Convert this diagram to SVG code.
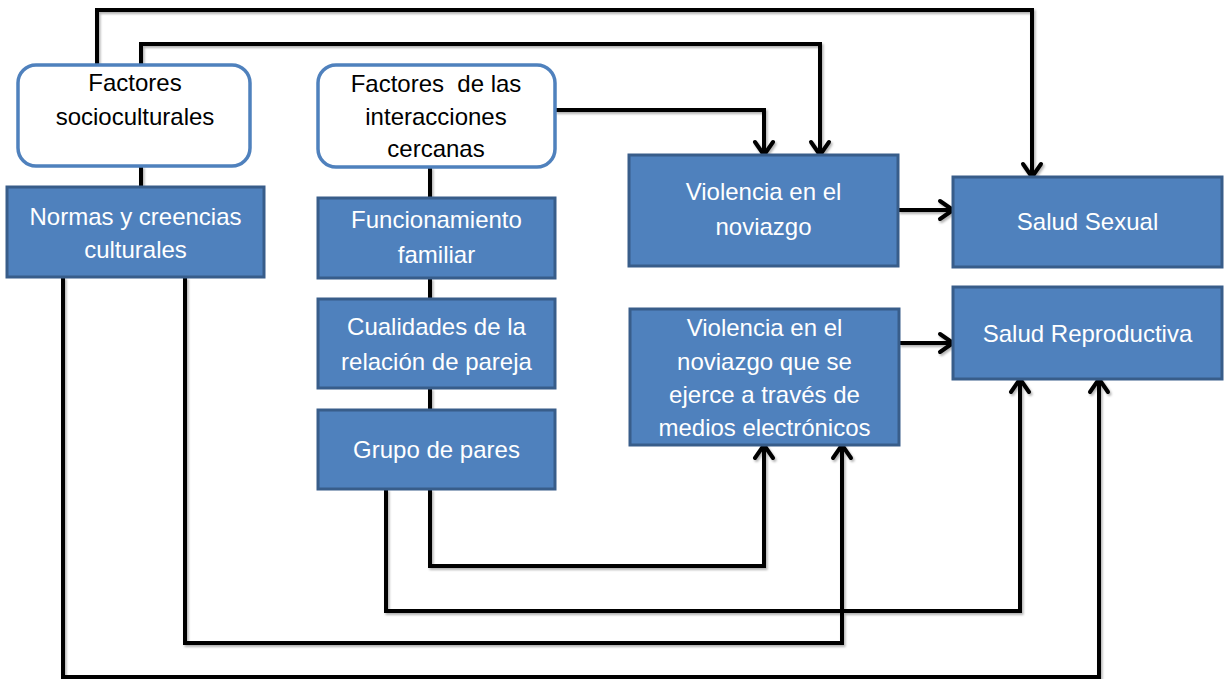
<svg xmlns="http://www.w3.org/2000/svg" width="1225" height="679" viewBox="0 0 1225 679">
  <style>
    .outer { fill: #ffffff; stroke: #4f81bd; stroke-width: 3.5; }
    .box { fill: #4f81bd; stroke: #385d8a; stroke-width: 3; }
    .tb { font-family: "Liberation Sans", Arial, sans-serif; font-size: 24px; fill: #000000; text-anchor: middle; }
    .tw { font-family: "Liberation Sans", Arial, sans-serif; font-size: 24px; fill: #ffffff; text-anchor: middle; }
    .con { fill: none; stroke: #000000; stroke-width: 4; stroke-linejoin: miter; }
    .arr { fill: none; stroke: #000000; stroke-width: 4; marker-end: url(#arrow); }
  </style>
  <defs>
    <marker id="arrow" markerUnits="userSpaceOnUse" viewBox="-16 -12 20 24" refX="0" refY="0" markerWidth="20" markerHeight="24" orient="auto" overflow="visible">
      <path d="M-13,-9 L0,0 L-13,9" fill="none" stroke="#000000" stroke-width="4" stroke-linejoin="round" stroke-linecap="round"/>
    </marker>
    <filter id="sh" x="-5%" y="-5%" width="110%" height="110%">
      <feDropShadow dx="1.5" dy="2" stdDeviation="1.2" flood-color="#000000" flood-opacity="0.3"/>
    </filter>
  </defs>

  <g id="connectors" filter="url(#sh)">
    <path class="arr" d="M97,65 V10 H1032 V177"/>
    <path class="arr" d="M141,65 V44 H820 V155"/>
    <path class="arr" d="M555,110 H764 V155"/>
    <path class="con" d="M141,166 V187"/>
    <path class="con" d="M430,167 V198"/>
    <path class="con" d="M430,278 V299"/>
    <path class="con" d="M430,388 V410"/>
    <path class="arr" d="M898,210 H953"/>
    <path class="arr" d="M899,343 H953"/>
    <path class="arr" d="M430,489 V566 H764 V445"/>
    <path class="arr" d="M386,489 V611 H1020 V379"/>
    <path class="arr" d="M185,277 V643 H842 V445"/>
    <path class="arr" d="M63,277 V677 H1099 V379"/>
  </g>

  <g id="factores-socioculturales">
    <rect class="outer" x="18" y="65" width="232" height="101" rx="18" ry="18"/>
    <text class="tb" x="135" y="91">Factores</text>
    <text class="tb" x="135" y="125">socioculturales</text>
  </g>

  <g id="normas">
    <rect class="box" x="7" y="187" width="257" height="90"/>
    <text class="tw" x="135.5" y="225">Normas y creencias</text>
    <text class="tw" x="135.5" y="258">culturales</text>
  </g>

  <g id="factores-interacciones">
    <rect class="outer" x="318" y="65" width="237" height="102" rx="18" ry="18"/>
    <text class="tb" x="436" y="92" xml:space="preserve">Factores  de las</text>
    <text class="tb" x="436" y="125">interacciones</text>
    <text class="tb" x="436" y="157">cercanas</text>
  </g>

  <g id="funcionamiento">
    <rect class="box" x="318" y="198" width="237" height="80"/>
    <text class="tw" x="436.5" y="228">Funcionamiento</text>
    <text class="tw" x="436.5" y="263">familiar</text>
  </g>

  <g id="cualidades">
    <rect class="box" x="318" y="299" width="237" height="89"/>
    <text class="tw" x="436.5" y="335">Cualidades de la</text>
    <text class="tw" x="436.5" y="370">relación de pareja</text>
  </g>

  <g id="grupo-pares">
    <rect class="box" x="318" y="410" width="237" height="79"/>
    <text class="tw" x="436.5" y="458">Grupo de pares</text>
  </g>

  <g id="violencia-noviazgo">
    <rect class="box" x="629" y="155" width="269" height="111"/>
    <text class="tw" x="763.5" y="200">Violencia en el</text>
    <text class="tw" x="763.5" y="235">noviazgo</text>
  </g>

  <g id="violencia-medios">
    <rect class="box" x="630" y="309" width="269" height="136"/>
    <text class="tw" x="764.5" y="336">Violencia en el</text>
    <text class="tw" x="764.5" y="370">noviazgo que se</text>
    <text class="tw" x="764.5" y="403">ejerce a través de</text>
    <text class="tw" x="764.5" y="436">medios electrónicos</text>
  </g>

  <g id="salud-sexual">
    <rect class="box" x="953" y="177" width="269" height="90"/>
    <text class="tw" x="1087.5" y="230">Salud Sexual</text>
  </g>

  <g id="salud-reproductiva">
    <rect class="box" x="953" y="287" width="269" height="92"/>
    <text class="tw" x="1087.5" y="342">Salud Reproductiva</text>
  </g>
</svg>
